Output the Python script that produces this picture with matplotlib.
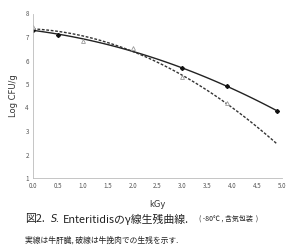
import numpy as np
import matplotlib
matplotlib.use("Agg")
import matplotlib.pyplot as plt

plt.rcParams['font.family'] = ['Noto Sans CJK JP', 'DejaVu Sans']

# data
liver_x = [0.0, 0.5, 3.0, 3.9, 4.9]
liver_y = [7.3, 7.1, 5.68, 4.91, 3.85]
mince_x = [0.0, 1.0, 2.0, 3.0, 3.9, 4.9]
mince_y = [7.42, 6.85, 6.55, 5.3, 4.2, 2.42]
xticks = [0.0, 0.5, 1.0, 1.5, 2.0, 2.5, 3.0, 3.5, 4.0, 4.5, 5.0]
xticklabels = ["0.0", "0.5", "1.0", "1.5", "2.0", "2.5", "3.0", "3.5", "4.0", "4.5", "5.0"]
yticks = [1, 2, 3, 4, 5, 6, 7, 8]

fig = plt.figure(figsize=(2.92, 2.5), dpi=100)
ax = fig.add_axes([0.113, 0.288, 0.853, 0.658])

# trend lines (quadratic fits to the points, as in the original figure)
xs = np.linspace(0, 4.9, 100)
pl = np.polyfit(liver_x, liver_y, 2)
pm = np.polyfit(mince_x, mince_y, 2)
ax.plot(xs, np.polyval(pl, xs), color='#222222', lw=1.0, solid_capstyle='round')
ax.plot(xs, np.polyval(pm, xs), color='#333333', lw=1.0, ls=(0, (2, 1.2)))
ax.plot(liver_x, liver_y, ls='none', marker='D', ms=2.0, color='#111111')
ax.plot(mince_x[:-1], mince_y[:-1], ls='none', marker='^', ms=2.8, mfc='white', mec='#999999', mew=0.6)

ax.set_xlim(0, 5.0)
ax.set_ylim(1, 8)
ax.set_xticks(xticks)
ax.set_xticklabels(xticklabels)
ax.set_yticks(yticks)
ax.tick_params(labelsize=4.5, colors='#555555', length=0, pad=3)
for s in ['top', 'right']:
    ax.spines[s].set_visible(False)
for s in ['left', 'bottom']:
    ax.spines[s].set_color('#bbbbbb')
    ax.spines[s].set_linewidth(0.6)
    ax.spines[s].set_linestyle((0, (2, 1)))
ax.set_facecolor('white')
ax.set_ylabel("Log CFU/g", fontsize=6, color='#333333', labelpad=5, family=['DejaVu Sans'])
ax.set_xlabel("kGy", fontsize=6, color='#333333', labelpad=7, family=['DejaVu Sans'])

# caption, pieces chained left to right
fig.canvas.draw()
renderer = fig.canvas.get_renderer()
inv = fig.transFigure.inverted()

def chain(x, y, s, **kw):
    t = fig.text(x, y, s, va='center', color='#222222', **kw)
    bb = t.get_window_extent(renderer=renderer)
    return inv.transform((bb.x1, bb.y1))[0]

y1 = 1 - 219 / 250
x = chain(25 / 292, y1, "図2.", fontsize=7.8)
x = chain(x + 6 / 292, y1, "S.", fontsize=7, style='italic', family=['DejaVu Sans'])
x = chain(x + 3 / 292, y1, "Enteritidisのγ線生残曲線.", fontsize=7.8)
chain(max(x + 4 / 292, 199 / 292), y1, "( -80℃ , 含気包装  )", fontsize=5)
fig.text(25 / 292, 1 - 240 / 250, "実線は牛肝臓, 破線は牛挽肉での生残を示す.", fontsize=5.6,
         color='#222222', va='center')

fig.savefig("out.png", dpi=100, facecolor='white')
